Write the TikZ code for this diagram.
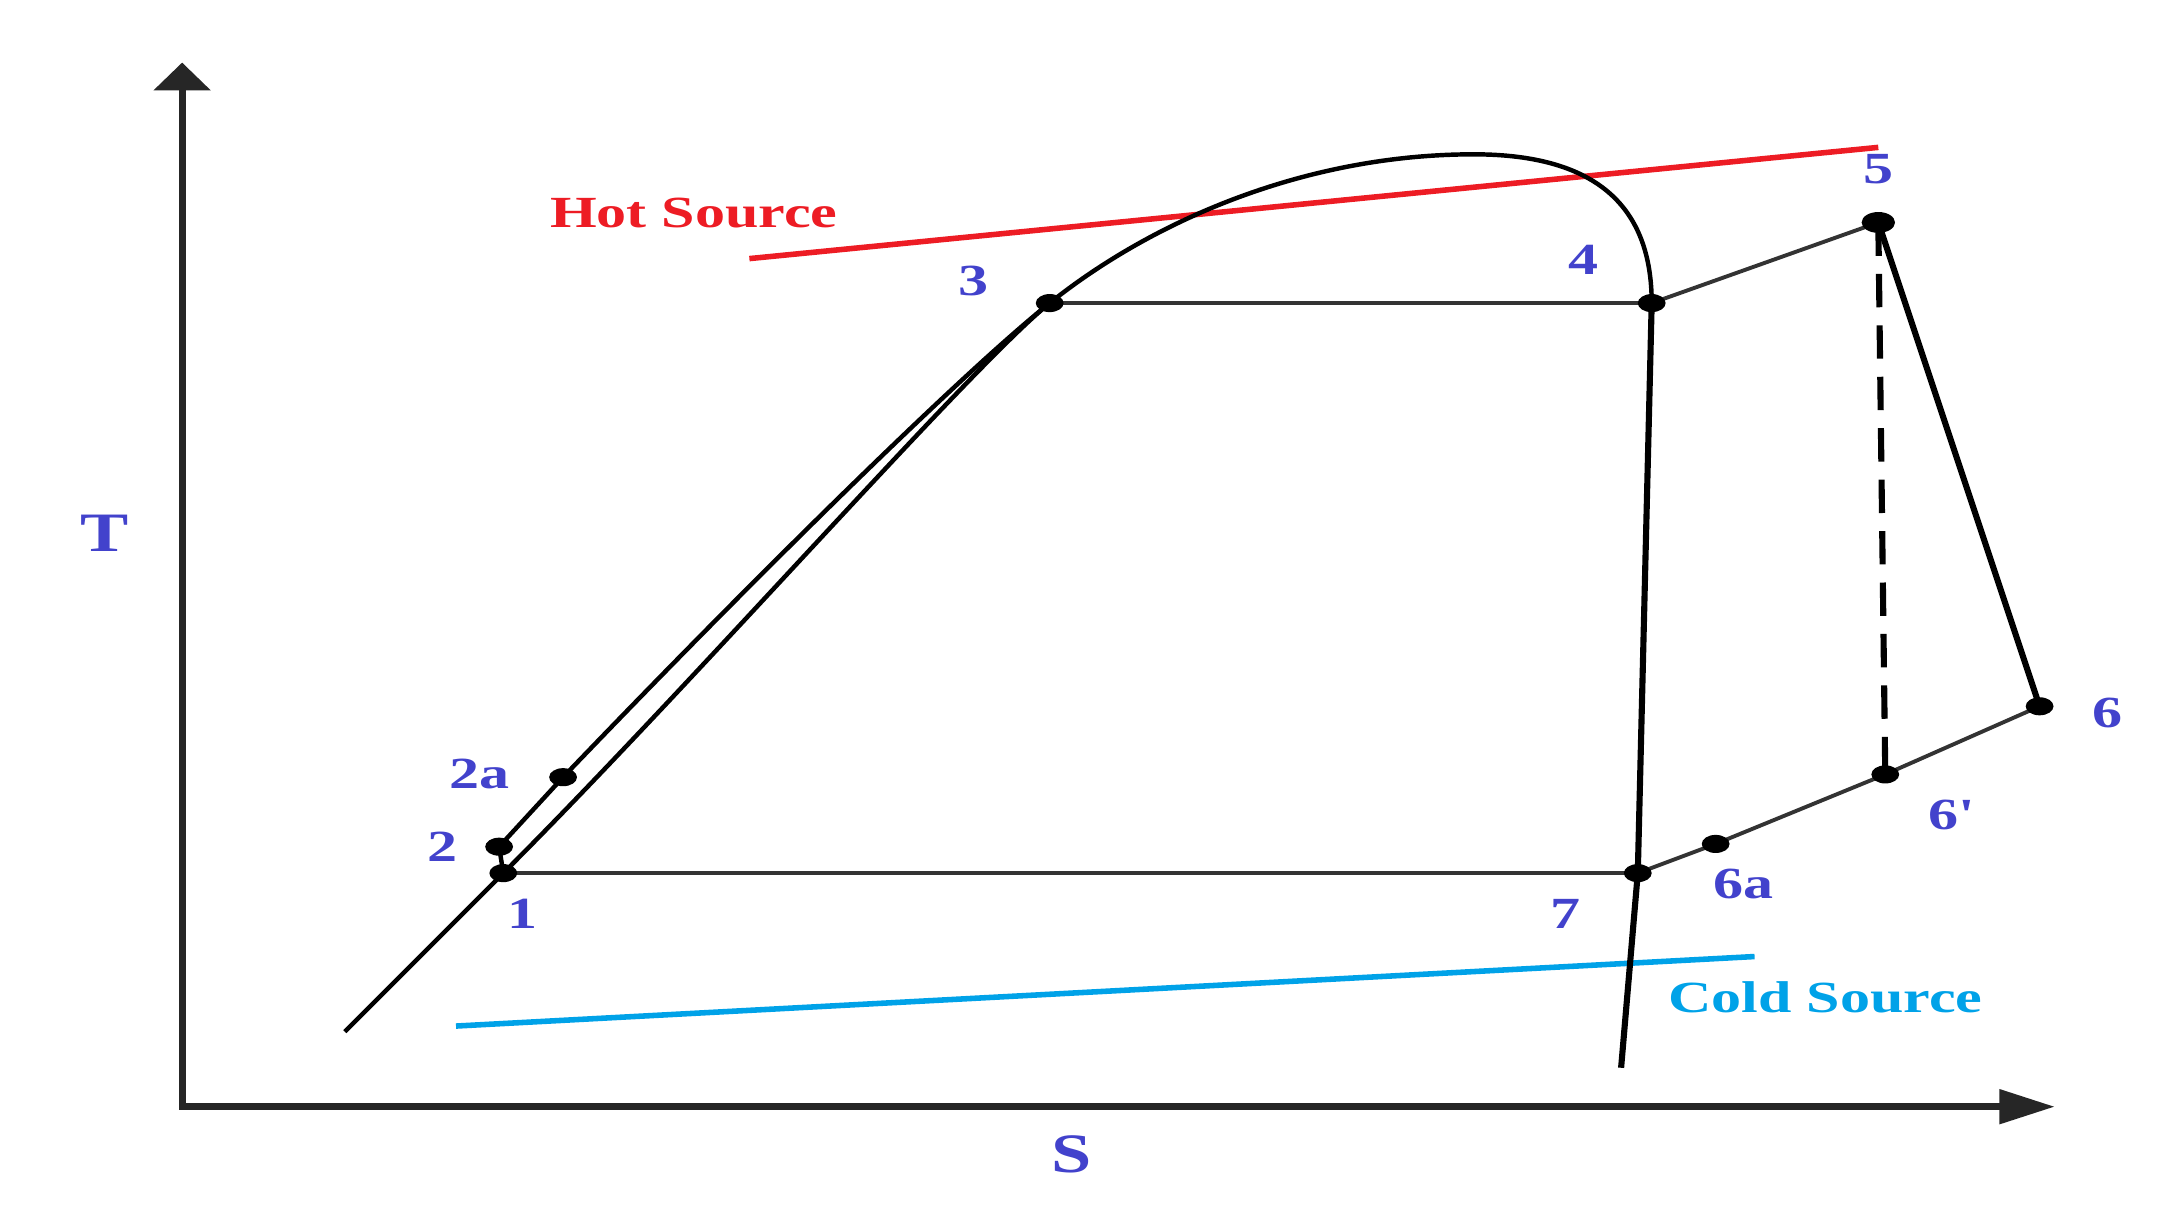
\documentclass[tikz,border=0pt]{standalone}
\usepackage{fontspec}
\setmainfont{Liberation Serif}
\usepackage{graphicx}
\usetikzlibrary{arrows.meta,shapes.geometric}
\definecolor{lblue}{RGB}{66,66,204}
\definecolor{hotred}{RGB}{237,28,36}
\definecolor{coldcyan}{RGB}{0,162,232}
\newcommand{\stretchtxt}[1]{\scalebox{1.35}[1]{#1}}
\newcommand{\stretchax}[1]{\scalebox{1.3}[1]{#1}}
\begin{document}
\begin{tikzpicture}[x=0.5pt,y=-0.5pt,
  lbl/.style={text=lblue,font=\bfseries\fontsize{16}{16}\selectfont,inner sep=0pt},
  axlbl/.style={text=lblue,font=\bfseries\fontsize{20}{20}\selectfont,inner sep=0pt},
  srclbl/.style={font=\bfseries\fontsize{16}{16}\selectfont,inner sep=0pt},
  dot/.style={ellipse,fill=black,inner sep=0pt,minimum width=10pt,minimum height=6.5pt},
  axisline/.style={line width=2.6pt,black!85},
  dome/.style={line width=1.6pt,black},
  cyc/.style={line width=1.4pt,black!80},
  heavy/.style={line width=2.2pt,black},
  srcline/.style={line width=2pt}
  ]
\useasboundingbox (0,0) rectangle (1568,867);

% axes
\coordinate (ytop) at (131,45);
\coordinate (orig) at (131,796);
\coordinate (xend) at (1478,796);
\draw[axisline,{Triangle[width=20pt,length=10pt]}-{Triangle[width=12pt,length=20pt]}] (ytop) -- (orig) -- (xend);
\node[axlbl] (tlab) at (75.5,383.5) {\stretchax{T}};
\node[axlbl] (slab) at (771,830) {\stretchax{S}};

% source lines
\coordinate (hotA) at (539,186);
\coordinate (hotB) at (1351,106);
\draw[srcline,hotred] (hotA) -- (hotB);
\node[srclbl,text=hotred] (hotlab) at (499,153.5) {\stretchtxt{Hot Source}};
\coordinate (coldA) at (328,738);
\coordinate (coldB) at (1262,688);
\draw[srcline,coldcyan] (coldA) -- (coldB);
\node[srclbl,text=coldcyan] (coldlab) at (1313,717) {\stretchtxt{Cold Source}};

% state points
\coordinate (p1) at (362,628);
\coordinate (p2) at (359,609);
\coordinate (p2a) at (405,559);
\coordinate (p3) at (755,218);
\coordinate (p4) at (1188,218);
\coordinate (p5) at (1351,160);
\coordinate (p6) at (1467,508);
\coordinate (p6p) at (1356,557);
\coordinate (p6a) at (1234,607);
\coordinate (p7) at (1178,628);
\coordinate (domeL) at (248,742);
\coordinate (domeR) at (1166,768);
\coordinate (domeTop) at (1060,111);

% saturation dome
\draw[dome] (domeL) -- (p1) .. controls (500,490) and (700,262) .. (p3)
  .. controls (830,158) and (940,111) .. (domeTop)
  .. controls (1150,111) and (1188,150) .. (p4);
\draw[heavy] (p4) -- (p7) -- (domeR);

% cycle
\draw[dome] (p1) -- (p2) -- (p2a) .. controls (540,418) and (690,270) .. (p3);
\draw[cyc] (p1) -- (p7);
\draw[cyc] (p3) -- (p4);
\draw[cyc] (p4) -- (p5);
\draw[heavy] (p5) -- (p6);
\draw[cyc] (p6) -- (p6p) -- (p6a) -- (p7);
\draw[heavy,dash pattern=on 12pt off 6.5pt] (p5) -- (p6p);

% dots
\foreach \p in {p1,p2,p2a,p3,p4,p6,p6p,p6a,p7}
  \node[dot] (d\p) at (\p) {};
\node[dot,minimum width=12pt,minimum height=7.5pt] (dp5) at (p5) {};

% labels
\node[lbl] (l1) at (376,657) {\stretchtxt{1}};
\node[lbl] (l2) at (318,609) {\stretchtxt{2}};
\node[lbl] (l2a) at (345,557) {\stretchtxt{2a}};
\node[lbl] (l3) at (700,202) {\stretchtxt{3}};
\node[lbl] (l4) at (1139,187) {\stretchtxt{4}};
\node[lbl] (l5) at (1351,122) {\stretchtxt{5}};
\node[lbl] (l6) at (1516,513) {\stretchtxt{6}};
\node[lbl] (l6p) at (1404,586) {\stretchtxt{6\textquotesingle}};
\node[lbl] (l6a) at (1254,636) {\stretchtxt{6a}};
\node[lbl] (l7) at (1126,657) {\stretchtxt{7}};
\end{tikzpicture}
\end{document}
